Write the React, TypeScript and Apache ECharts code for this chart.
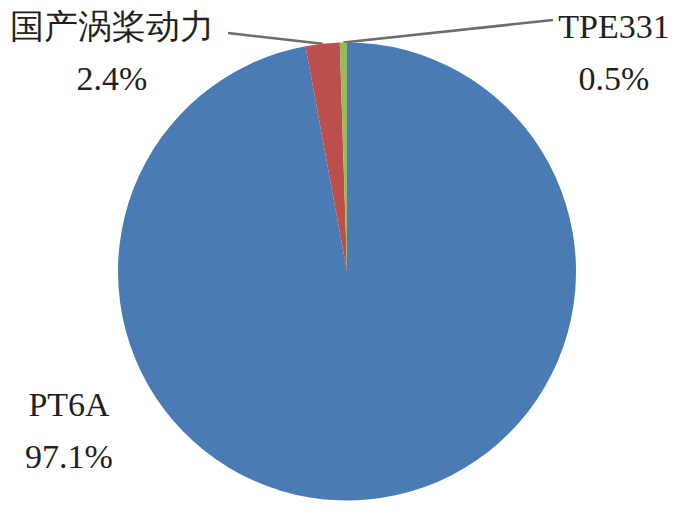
import React, { useEffect, useRef } from "react";
import * as echarts from "echarts";

const categories = ["PT6A", "国产涡桨动力", "TPE331"];
const shares = [97.1, 2.4, 0.5];
const colors = ["#4a7bb5", "#bc4f4c", "#98ba5a"];

// label anchor positions (layout only)
const labelPos: Record<number, [number, number]> = {
  0: [69, 430],
  1: [112, 52],
  2: [614, 52],
};
const lineEnds: Record<number, [number, number]> = {
  1: [228, 33],
  2: [553, 20],
};

const FONT = "'Liberation Serif', 'DejaVu Serif', serif";

export default function App() {
  const ref = useRef<HTMLDivElement>(null);
  useEffect(() => {
    if (!ref.current) return;
    const chart = echarts.init(ref.current, null, { renderer: "svg" });
    chart.setOption({
      animation: false,
      backgroundColor: "#ffffff",
      textStyle: { fontFamily: FONT },
      series: [
        {
          type: "pie",
          center: [347, 271.5],
          radius: [0, 229],
          startAngle: 90,
          clockwise: true,
          avoidLabelOverlap: false,
          itemStyle: { borderColor: "#ffffff", borderWidth: 0 },
          label: {
            show: true,
            position: "outside",
            fontFamily: FONT,
            fontSize: 34,
            lineHeight: 52,
            color: "#231f20",
            formatter: (p: any) => `${p.name}\n${Number(p.value).toFixed(1)}%`,
          },
          labelLine: {
            show: true,
            length: 20,
            length2: 20,
            lineStyle: { color: "#6d6d6d", width: 2.5 },
          },
          labelLayout: (params: any) => {
            const pos = labelPos[params.dataIndex];
            const out: any = {
              x: pos[0],
              y: pos[1],
              align: "center",
              verticalAlign: "middle",
              fontSize: 34,
            };
            const end = lineEnds[params.dataIndex];
            if (end && params.labelLinePoints && params.labelLinePoints[0]) {
              out.labelLinePoints = [params.labelLinePoints[0], end];
            } else {
              out.labelLinePoints = [];
            }
            return out;
          },
          data: categories.map((name, i) => ({
            name,
            value: shares[i],
            itemStyle: { color: colors[i] },
            label: { fontFamily: FONT },
            labelLine: { show: i !== 0 },
          })),
        },
      ],
    });
    return () => chart.dispose();
  }, []);
  return (
    <div
      ref={ref}
      style={{ position: "fixed", left: 0, top: 0, width: 680, height: 521 }}
    />
  );
}
